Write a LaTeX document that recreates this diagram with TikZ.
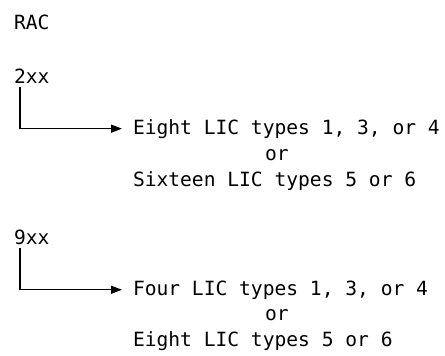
\documentclass[tikz,border=0pt]{standalone}
\usepackage{fontspec}
\newfontfamily\labelfont{DejaVu Sans Mono}
\usetikzlibrary{arrows.meta}
\begin{document}
\begin{tikzpicture}[x=1pt,y=1pt,
  txt/.style={anchor=base west, inner sep=0pt, outer sep=0pt,
              font=\labelfont\fontsize{19.6}{24}\selectfont},
  conn/.style={line width=1.3pt, -{Triangle[length=11pt,width=8pt]}}]
\useasboundingbox[fill=white] (0,0) rectangle (445,-356);
\node[txt] (rac) at (14,-29) {RAC};
\node[txt] (a) at (14,-83) {2xx};
\node[txt] (a1) at (133,-134) {Eight LIC types 1, 3, or 4};
\node[txt] (a2) at (265,-160) {or};
\node[txt] (a3) at (133,-186) {Sixteen LIC types 5 or 6};
\node[txt] (b) at (14,-244) {9xx};
\node[txt] (b1) at (133,-295) {Four LIC types 1, 3, or 4};
\node[txt] (b2) at (265,-320) {or};
\node[txt] (b3) at (133,-346) {Eight LIC types 5 or 6};
\draw[conn] ([xshift=6pt,yshift=-4pt]a.south west) |- ([xshift=-11pt]a1.west);
\draw[conn] ([xshift=6pt,yshift=-4pt]b.south west) |- ([xshift=-11pt]b1.west);
\end{tikzpicture}
\end{document}
